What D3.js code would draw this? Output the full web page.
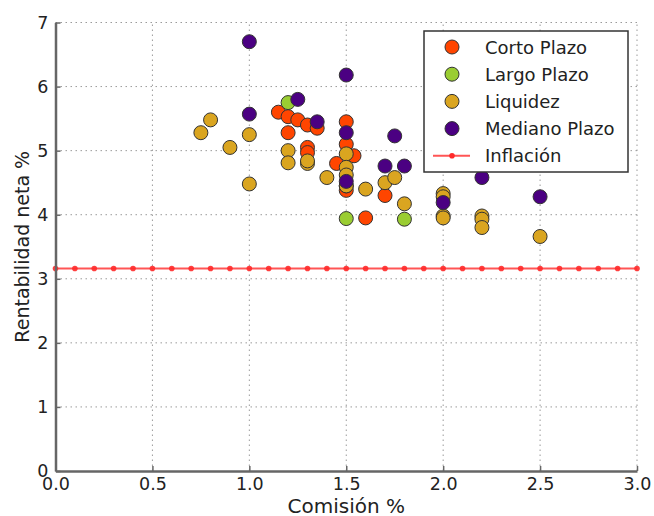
<!DOCTYPE html>
<html>
<head>
<meta charset="utf-8">
<script src="https://cdn.jsdelivr.net/npm/d3@7"></script>
<style>
  html, body { margin: 0; padding: 0; background: #fff; }
  text { font-family: "DejaVu Sans", sans-serif; fill: #222; }
</style>
</head>
<body>
<svg id="chart" width="654" height="516"></svg>
<script>
// Fund series: commission (%) vs. net return (%)
const seriesNames = ["Corto Plazo", "Largo Plazo", "Liquidez", "Mediano Plazo"];
const seriesColors = ["#ff4500", "#9acd32", "#daa520", "#4b0082"];

const cortoX = [1.15, 1.2, 1.25, 1.3, 1.35, 1.5, 1.2, 1.5, 1.3, 1.3, 1.54, 1.45, 1.5, 1.5, 1.6, 1.7];
const cortoY = [5.6, 5.53, 5.48, 5.4, 5.35, 5.45, 5.28, 5.1, 5.05, 4.97, 4.92, 4.8, 4.38, 4.45, 3.95, 4.3];

const largoX = [1.2, 1.5, 1.8];
const largoY = [5.75, 3.94, 3.93];

const liquidezX = [0.75, 0.8, 0.9, 1.0, 1.0, 1.2, 1.2, 1.3, 1.3, 1.4, 1.5, 1.5, 1.5, 1.5, 1.6, 1.7, 1.75, 1.8, 2.0, 2.0, 2.0, 2.0, 2.2, 2.2, 2.2, 2.5];
const liquidezY = [5.28, 5.48, 5.05, 5.25, 4.48, 5.0, 4.81, 4.8, 4.84, 4.58, 4.95, 4.74, 4.62, 4.45, 4.4, 4.5, 4.58, 4.17, 4.33, 4.28, 3.98, 3.95, 3.98, 3.93, 3.8, 3.66];

const medianoX = [1.0, 1.5, 1.0, 1.25, 1.35, 1.5, 1.5, 1.75, 1.7, 1.8, 2.0, 2.2, 2.5];
const medianoY = [6.7, 6.18, 5.57, 5.8, 5.45, 5.28, 4.52, 5.23, 4.76, 4.76, 4.19, 4.58, 4.28];

// Inflation reference level, sampled every 0.1 of commission
const inflacionNombre = "Inflación";
const inflacionValor = 3.16;
const inflacionX = d3.range(0, 31).map(i => i / 10);

const xTicks = [0.0, 0.5, 1.0, 1.5, 2.0, 2.5, 3.0];
const yTicks = [0, 1, 2, 3, 4, 5, 6, 7];
const xLabel = "Comisión %";
const yLabel = "Rentabilidad neta %";

const seriesX = [cortoX, largoX, liquidezX, medianoX];
const seriesY = [cortoY, largoY, liquidezY, medianoY];

const W = 654, H = 516;
const margin = { left: 55.5, right: 17, top: 22.5, bottom: 45 };

const svg = d3.select("#chart");
const x = d3.scaleLinear().domain([0, 3]).range([margin.left, W - margin.right]);
const y = d3.scaleLinear().domain([0, 7]).range([H - margin.bottom, margin.top]);

// grid
const grid = svg.append("g").attr("stroke", "#9a9a9a").attr("stroke-width", 1)
  .attr("stroke-dasharray", "1.5,3.5");
grid.selectAll("line.gx").data(xTicks.slice(1)).join("line")
  .attr("x1", d => x(d)).attr("x2", d => x(d))
  .attr("y1", y(0)).attr("y2", y(7));
grid.selectAll("line.gy").data(yTicks.slice(1)).join("line")
  .attr("x1", x(0)).attr("x2", x(3))
  .attr("y1", d => y(d)).attr("y2", d => y(d));

// inflation line
const infl = svg.append("g");
infl.append("path")
  .datum(inflacionX)
  .attr("fill", "none").attr("stroke", "#ff2a2a").attr("stroke-opacity", 0.8)
  .attr("stroke-width", 2)
  .attr("d", d3.line().x(d => x(d)).y(() => y(inflacionValor)));
infl.selectAll("circle").data(inflacionX).join("circle")
  .attr("cx", d => x(d)).attr("cy", y(inflacionValor)).attr("r", 2.8)
  .attr("fill", "#ff2a2a").attr("fill-opacity", 0.9);

// scatter points, drawn series by series
seriesNames.forEach((name, i) => {
  const pts = seriesX[i].map((v, j) => [v, seriesY[i][j]]);
  svg.append("g").selectAll("circle").data(pts).join("circle")
    .attr("cx", d => x(d[0])).attr("cy", d => y(d[1])).attr("r", 7)
    .attr("fill", seriesColors[i])
    .attr("stroke", "#333").attr("stroke-width", 1);
});

// axes
const xAxis = d3.axisBottom(x).tickValues(xTicks).tickFormat(d3.format(".1f"))
  .tickSizeInner(-5).tickSizeOuter(0).tickPadding(6.5);
const yAxis = d3.axisLeft(y).tickValues(yTicks).tickFormat(d3.format("d"))
  .tickSizeInner(-5).tickSizeOuter(0).tickPadding(7);

const gx = svg.append("g").attr("transform", `translate(0,${y(0)})`).call(xAxis);
const gy = svg.append("g").attr("transform", `translate(${x(0)},0)`).call(yAxis);
[gx, gy].forEach(g => {
  g.select(".domain").attr("stroke", "#666").attr("stroke-width", 2.5);
  g.selectAll(".tick line").attr("stroke", "#666").attr("stroke-width", 1.5);
  g.selectAll(".tick text").attr("font-size", 17.5).attr("font-family", "DejaVu Sans").attr("fill", "#222");
});
gx.selectAll(".tick text").attr("dy", "0.72em");

svg.append("text").attr("x", (x(0) + x(3)) / 2).attr("y", 513)
  .attr("text-anchor", "middle").attr("font-size", 20).text(xLabel);
svg.append("text")
  .attr("transform", `translate(21.5,${(y(0) + y(7)) / 2}) rotate(-90)`)
  .attr("text-anchor", "middle").attr("dominant-baseline", "central")
  .attr("font-size", 19).text(yLabel);

// legend
const lg = svg.append("g").attr("transform", "translate(424,31)");
lg.append("rect").attr("width", 204).attr("height", 141)
  .attr("fill", "#fff").attr("stroke", "#333").attr("stroke-width", 1.5);
const rowY = i => 16 + i * 27.2;
seriesNames.forEach((name, i) => {
  lg.append("circle").attr("cx", 28).attr("cy", rowY(i)).attr("r", 7)
    .attr("fill", seriesColors[i]).attr("stroke", "#333").attr("stroke-width", 1);
  lg.append("text").attr("x", 61).attr("y", rowY(i)).attr("dominant-baseline", "central")
    .attr("font-size", 18).text(name);
});
lg.append("line").attr("x1", 9).attr("x2", 46).attr("y1", rowY(4)).attr("y2", rowY(4))
  .attr("stroke", "#ff2a2a").attr("stroke-opacity", 0.8).attr("stroke-width", 2);
lg.append("circle").attr("cx", 28).attr("cy", rowY(4)).attr("r", 2.8).attr("fill", "#ff2a2a");
lg.append("text").attr("x", 61).attr("y", rowY(4)).attr("dominant-baseline", "central")
  .attr("font-size", 18).text(inflacionNombre);
</script>
</body>
</html>
